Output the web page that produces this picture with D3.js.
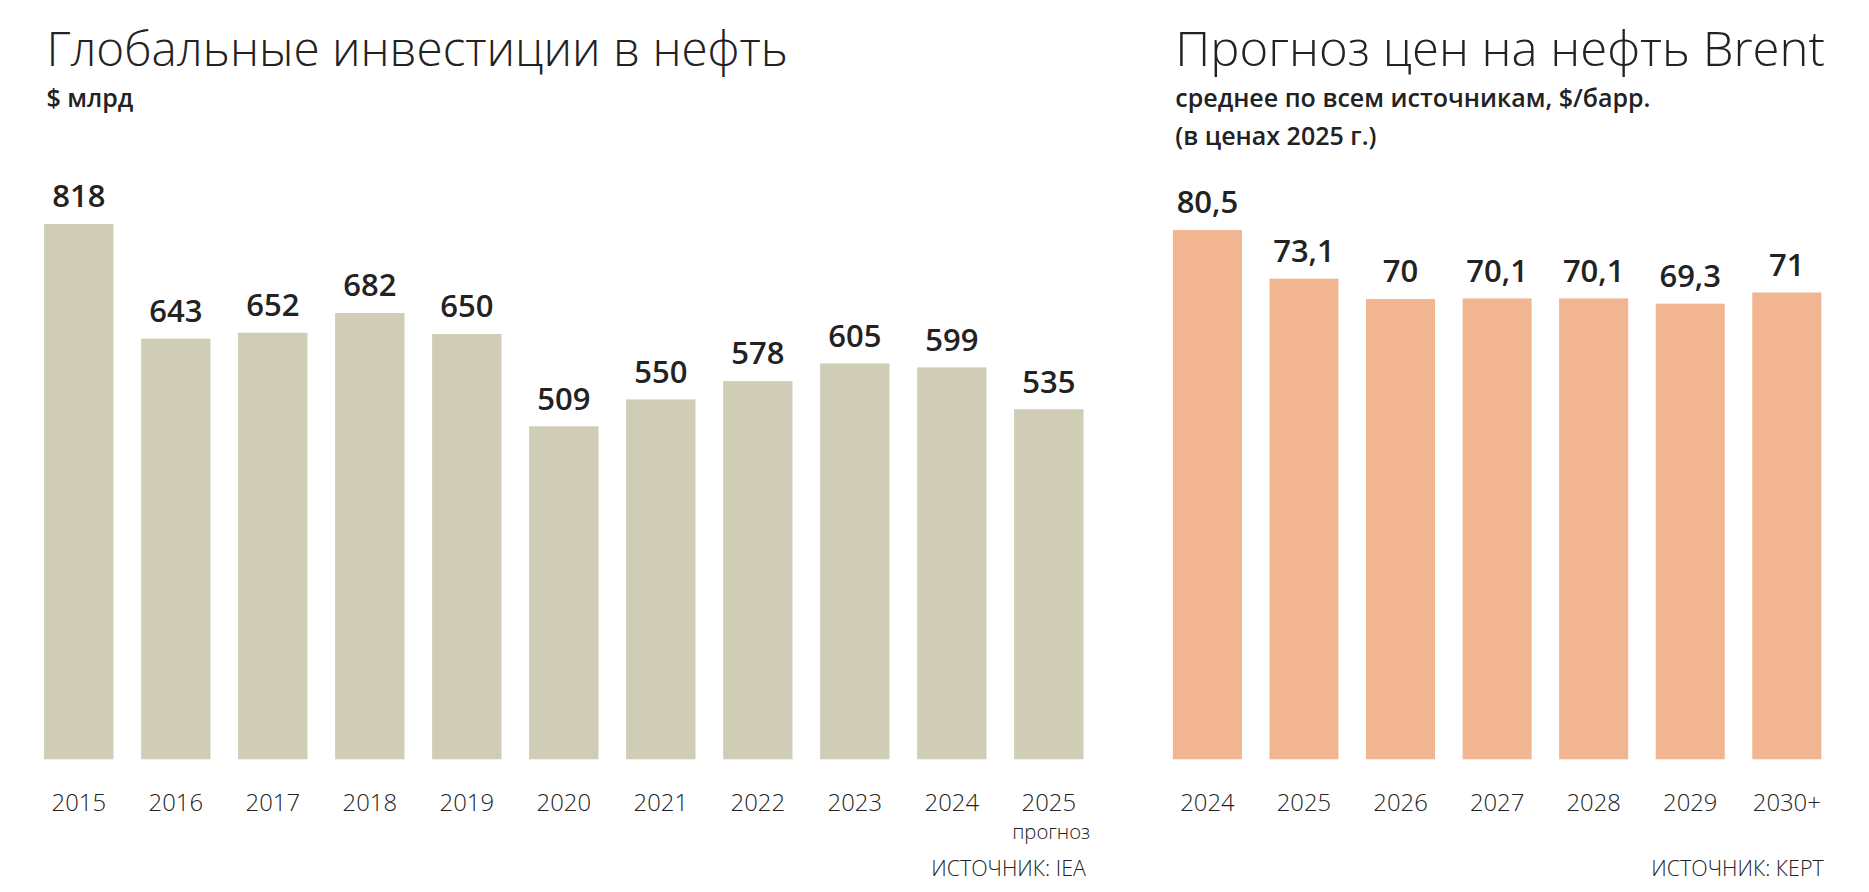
<!DOCTYPE html>
<html>
<head>
<meta charset="utf-8">
<script src="https://d3js.org/d3.v7.min.js"></script>
<style>
  body { margin: 0; background: #fff; }
  text { font-family: "Open Sans", sans-serif; fill: #222; }
</style>
</head>
<body>
<svg id="chart" width="1869" height="892"></svg>
<script>
  // data
  var invYears = ["2015","2016","2017","2018","2019","2020","2021","2022","2023","2024","2025"];
  var invValues = [818, 643, 652, 682, 650, 509, 550, 578, 605, 599, 535];
  var brentYears = ["2024","2025","2026","2027","2028","2029","2030+"];
  var brentValues = [80.5, 73.1, 70, 70.1, 70.1, 69.3, 71];
  var brentLabels = ["80,5","73,1","70","70,1","70,1","69,3","71"];

  var k = 1869 / 1568; // layout drawn at reduced size then scaled
  var svg = d3.select("#chart");
  var g = svg.append("g").attr("transform", "scale(" + k + ")");
  var baseY = 637;

  function panel(opts) {
    var x = d3.scaleBand().domain(opts.cats).range([opts.x0, opts.x1]).paddingInner(0.285).paddingOuter(0);
    var y = d3.scaleLinear().domain([0, opts.max]).range([baseY, baseY - opts.h]);

    g.append("text").attr("x", opts.x0 + 2).attr("y", 55)
      .attr("font-size", 40).attr("font-weight", 300)
      .attr("textLength", opts.titleLen).attr("lengthAdjust", "spacingAndGlyphs")
      .text(opts.title);
    opts.sub.forEach(function(s, i) {
      g.append("text").attr("x", opts.x0 + 2).attr("y", 90 + i * 32)
        .attr("font-size", 21).attr("font-weight", 600).text(s);
    });

    g.selectAll(null).data(opts.vals).enter().append("rect")
      .attr("x", function(d, i) { return x(opts.cats[i]); })
      .attr("y", function(d) { return y(d); })
      .attr("width", x.bandwidth())
      .attr("height", function(d) { return baseY - y(d); })
      .attr("fill", opts.color);

    g.selectAll(null).data(opts.vals).enter().append("text")
      .attr("x", function(d, i) { return x(opts.cats[i]) + x.bandwidth() / 2; })
      .attr("y", function(d) { return y(d) - 14; })
      .attr("text-anchor", "middle").attr("font-size", 26).attr("font-weight", 600)
      .text(function(d, i) { return opts.labels[i]; });

    g.selectAll(null).data(opts.cats).enter().append("text")
      .attr("x", function(d) { return x(d) + x.bandwidth() / 2; })
      .attr("y", 680)
      .attr("text-anchor", "middle").attr("font-size", 20).attr("font-weight", 300)
      .text(function(d) { return d; });

    g.append("text").attr("x", opts.x1 + 2).attr("y", 735)
      .attr("text-anchor", "end").attr("font-size", 18).attr("font-weight", 300)
      .text(opts.source);
    return x;
  }

  var xl = panel({
    cats: invYears, vals: invValues, labels: invValues.map(String), max: 818, h: 449,
    x0: 37, x1: 909, color: "#cfcdb6", title: "Глобальные инвестиции в нефть", titleLen: 622,
    sub: ["$ млрд"], source: "ИСТОЧНИК: IEA"
  });
  g.append("text").attr("x", xl("2025") + xl.bandwidth() / 2 + 2).attr("y", 704)
    .attr("text-anchor", "middle").attr("font-size", 17).attr("font-weight", 300).text("прогноз");

  panel({
    cats: brentYears, vals: brentValues, labels: brentLabels, max: 80.5, h: 444,
    x0: 984, x1: 1528, color: "#f2b592", title: "Прогноз цен на нефть Brent", titleLen: 545,
    sub: ["среднее по всем источникам, $/барр.", "(в ценах 2025 г.)"], source: "ИСТОЧНИК: КЕРТ"
  });
</script>
</body>
</html>
